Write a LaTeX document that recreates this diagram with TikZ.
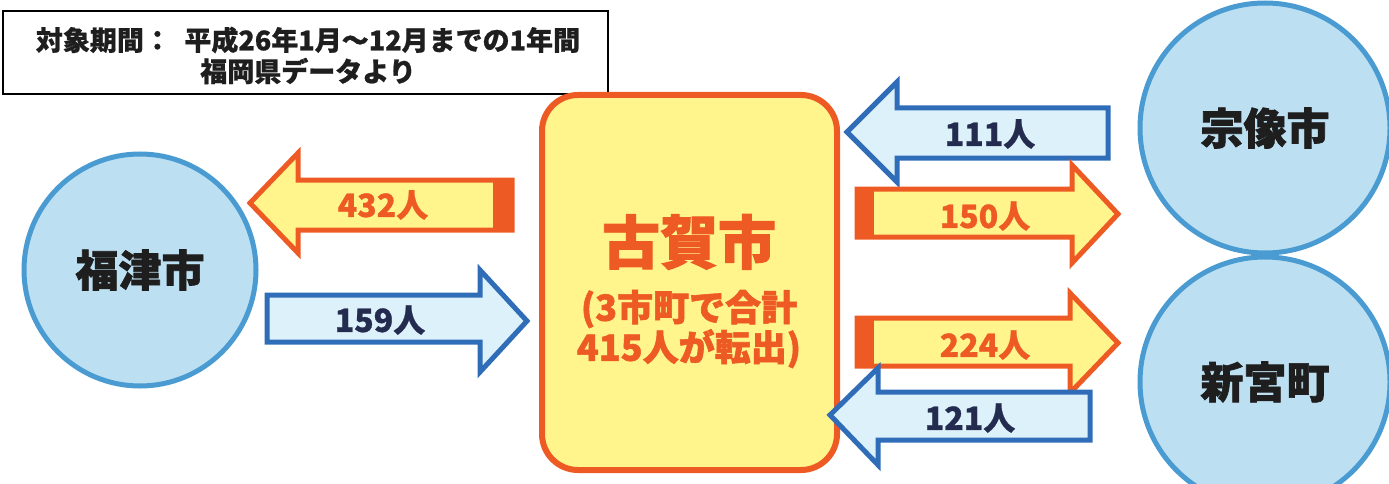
\documentclass[tikz,border=0pt]{standalone}
\usepackage{fontspec}
\newfontfamily\cjk{Noto Sans CJK JP}
\newfontfamily\cjkheavy{Noto Sans CJK JP}[BoldFeatures={FakeBold=1.6}]
\newfontfamily\cjkmid{Noto Sans CJK JP}[BoldFeatures={FakeBold=0.8}]
\definecolor{orng}{HTML}{EE5A24}
\definecolor{ylw}{HTML}{FFF58C}
\definecolor{blu}{HTML}{2F6DB8}
\definecolor{lblu}{HTML}{DDF1FB}
\definecolor{cblu}{HTML}{BCE0F2}
\definecolor{cedge}{HTML}{4A9BD2}
\definecolor{navy}{HTML}{232B4E}
\definecolor{txt}{HTML}{1E1E1E}
\begin{document}
\begin{tikzpicture}[x=1pt,y=-1pt,
  oarrow/.style={draw=orng,fill=ylw,line width=5pt,line join=miter},
  barrow/.style={draw=blu,fill=lblu,line width=5pt,line join=miter},
  otext/.style={font=\cjkmid\bfseries\fontsize{32}{32}\selectfont,text=orng},
  btext/.style={font=\cjkmid\bfseries\fontsize{32}{32}\selectfont,text=navy},
  city/.style={circle,draw=cedge,fill=cblu,line width=5pt,minimum size=#1,inner sep=0pt,font=\cjkheavy\bfseries\fontsize{43}{43}\selectfont,text=txt},
  hub/.style={draw=orng,fill=ylw,line width=6pt,rounded corners=36pt}
]
\useasboundingbox (0,0) rectangle (1389,484);
\begin{scope}
\clip (0,0) rectangle (1389,484);
% source box
\node[draw=black,line width=2pt,minimum width=605pt,minimum height=83pt,inner sep=0pt] (src) at (305.5,52.5) {};
\node[font=\cjkmid\bfseries\fontsize{27}{27}\selectfont,text=txt] (src1) at (308,40) {対象期間：\hspace{0.5em}平成26年1月～12月までの1年間};
\node[font=\cjkmid\bfseries\fontsize{27}{27}\selectfont,text=txt] (src2) at (308,71) {福岡県データより};
% cities
\node[city=232pt] (fukutsu) at (140,270) {福津市};
\node[city=250pt] (munakata) at (1265,128) {宗像市};
\node[city=250pt] (shingu) at (1265,382) {新宮町};
% hub
\draw[hub] (542,95) rectangle (837,470);
\node[font=\cjkheavy\bfseries\fontsize{58}{58}\selectfont,text=orng] (koga) at (689,242) {古賀市};
\node[font=\cjkheavy\bfseries\fontsize{36}{40}\selectfont,text=orng,align=center] (kogasub) at (689,329) {(3市町で合計\\415人が転出)};
% 432 arrow (left)
\draw[oarrow] (250,203) -- (298,153) -- (298,180) -- (512,180) -- (512,230) -- (298,230) -- (298,253) -- cycle;
\fill[orng] (493,180) rectangle (512,230);
\node[otext] (a432) at (383,205) {432人};
% 159 arrow (right)
\draw[barrow] (527,321) -- (480,270) -- (480,295) -- (267,295) -- (267,342) -- (480,342) -- (480,372) -- cycle;
\node[btext] (a159) at (380,320) {159人};
% 111 arrow (left)
\draw[barrow] (847,132) -- (897,82) -- (897,108) -- (1108,108) -- (1108,158) -- (897,158) -- (897,182) -- cycle;
\node[btext] (a111) at (990,134) {111人};
% 150 arrow (right)
\draw[oarrow] (1118,214) -- (1072,165) -- (1072,189) -- (857,189) -- (857,237) -- (1072,237) -- (1072,263) -- cycle;
\fill[orng] (857,189) rectangle (874,237);
\node[otext] (a150) at (985,216) {150人};
% 224 arrow (right)
\draw[oarrow] (1118,343) -- (1070,293) -- (1070,318) -- (857,318) -- (857,366) -- (1070,366) -- (1070,393) -- cycle;
\fill[orng] (857,318) rectangle (874,366);
\node[otext] (a224) at (985,345) {224人};
% 121 arrow (left)
\draw[barrow] (830,415) -- (878,368) -- (878,392) -- (1090,392) -- (1090,440) -- (878,440) -- (878,465) -- cycle;
\node[btext] (a121) at (970,418) {121人};
\end{scope}
\end{tikzpicture}
\end{document}
